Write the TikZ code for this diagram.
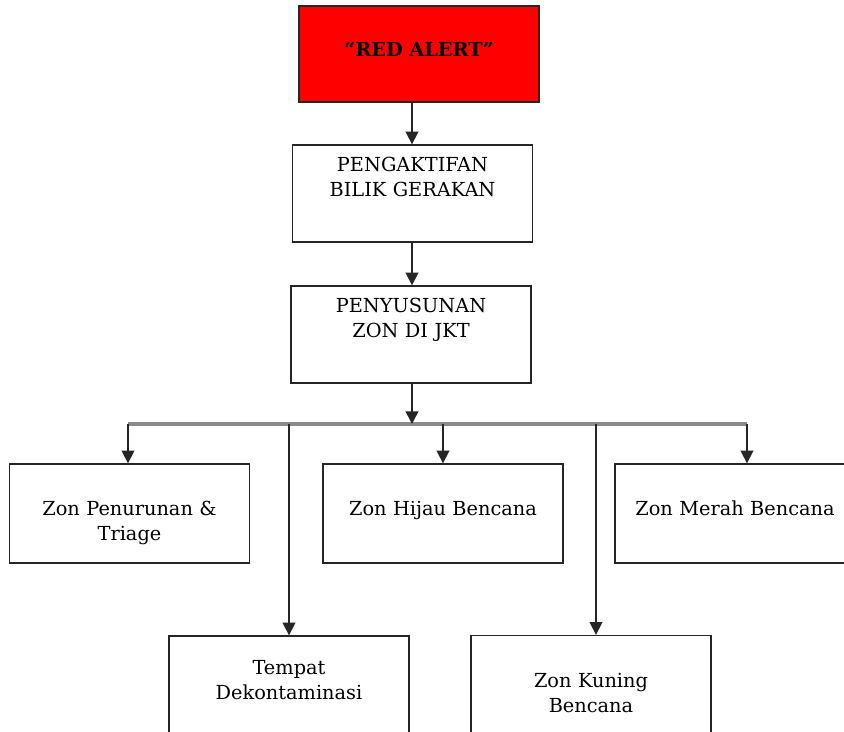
\documentclass[tikz,border=0pt]{standalone}
\usepackage{fontspec}
\setmainfont{DejaVu Serif}
\usepackage{tikz}
\usetikzlibrary{arrows.meta,positioning}
\definecolor{AlertRed}{HTML}{FF0000}
\definecolor{LineGrey}{HTML}{262626}
\definecolor{BusGrey}{HTML}{8A8A8A}

\begin{document}
\begin{tikzpicture}[
    x=0.75pt, y=-0.75pt,
    >={Triangle[length=9.5pt,width=9.5pt]},
    every node/.style={font=\fontsize{14.5pt}{18.75pt}\selectfont},
    flowbox/.style={draw=LineGrey, line width=1pt, align=center, inner sep=0pt, minimum width=180pt, text width=178pt},
    flowarrow/.style={->, draw=LineGrey, line width=1.2pt}
]
\useasboundingbox (0,0) rectangle (844,732);
\clip (0,0) rectangle (844,732);

\node[flowbox, fill=AlertRed, text height=38pt, text depth=34pt, font=\fontsize{14.5pt}{18.75pt}\selectfont\bfseries] (alert) at (419,54) {``RED ALERT''};
\node[flowbox, text height=19.5pt, text depth=53.25pt] (bilik) at (412.5,193.5) {PENGAKTIFAN\\BILIK GERAKAN};
\node[flowbox, text height=19.5pt, text depth=53.25pt] (zonjkt) at (411,334.5) {PENYUSUNAN\\ZON DI JKT};

\node[flowbox, text height=38.25pt, text depth=36pt] (triage) at (129.5,513.5) {Zon Penurunan \&\\Triage};
\node[flowbox, text height=38.25pt, text depth=36pt] (hijau) at (443,513.5) {Zon Hijau Bencana};
\node[flowbox, text height=38.25pt, text depth=36pt] (merah) at (735,513.5) {Zon Merah Bencana};
\node[flowbox, text height=28.5pt, text depth=44.25pt] (dekon) at (289,684.5) {Tempat\\Dekontaminasi};
\node[flowbox, text height=39pt, text depth=34.5pt] (kuning) at (591,684.5) {Zon Kuning\\Bencana};

% bus line
\coordinate (busmid) at (412,424);
\coordinate (busL) at (128,424);
\coordinate (busR) at (747,424);
\coordinate (kuningtop) at (596,424);
\draw[BusGrey, line width=2.4pt] (busL) -- (busR);

\draw[flowarrow] (alert.south -| busmid) -- (bilik.north -| busmid);
\draw[flowarrow] (bilik.south -| busmid) -- (zonjkt.north -| busmid);
\draw[flowarrow] (zonjkt.south -| busmid) -- (busmid);

\draw[flowarrow] (busL) -- (busL |- triage.north);
\draw[flowarrow] (hijau.north |- busmid) -- (hijau.north);
\draw[flowarrow] (busR) -- (busR |- merah.north);
\draw[flowarrow] (dekon.north |- busmid) -- (dekon.north);
\draw[flowarrow] (kuningtop) -- (kuningtop |- kuning.north);
\end{tikzpicture}
\end{document}
